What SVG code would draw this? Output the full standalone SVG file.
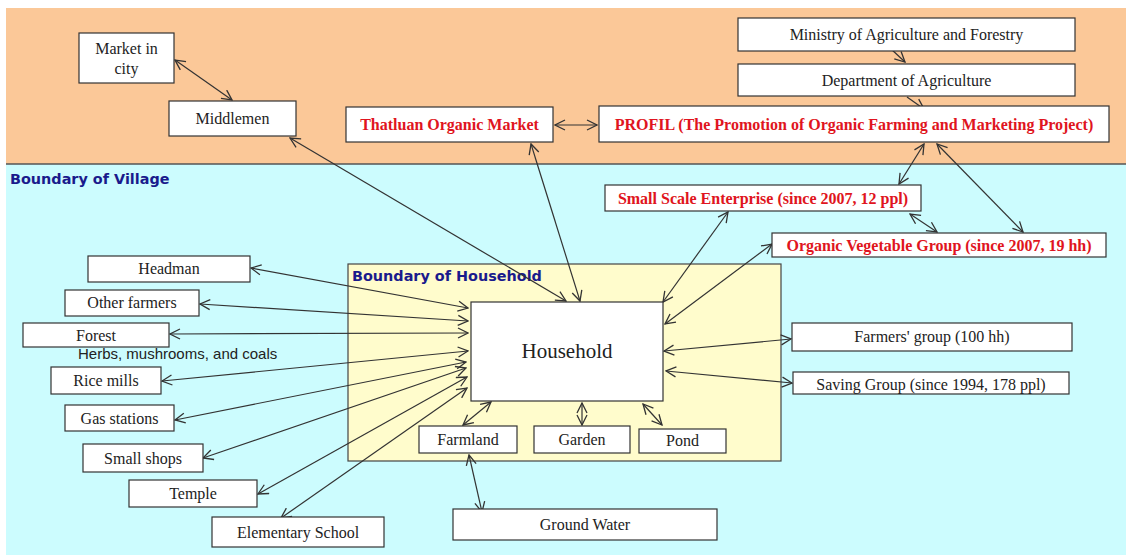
<svg xmlns="http://www.w3.org/2000/svg" width="1126" height="555" viewBox="0 0 1126 555">
<defs>
<marker id="ah" viewBox="0 0 12 12" refX="11" refY="6" markerWidth="12" markerHeight="12" markerUnits="userSpaceOnUse" orient="auto-start-reverse">
<path d="M1,1 L11,6 L1,11" fill="none" stroke="#333" stroke-width="1.3"/>
</marker>
<style>
.box{fill:#fff;stroke:#333;stroke-width:1.2}
.t{font-family:"Liberation Serif",serif;font-size:16px;fill:#222;text-anchor:middle}
.r{font-family:"Liberation Serif",serif;font-size:16px;font-weight:bold;fill:#e01420;text-anchor:middle}
.b{font-family:"DejaVu Sans",sans-serif;font-size:14.4px;font-weight:bold;fill:#1a1a8c}
.c{fill:none;stroke:#333;stroke-width:1.2}
.d{marker-start:url(#ah);marker-end:url(#ah)}
.s{marker-end:url(#ah)}
</style>
</defs>
<rect x="0" y="0" width="1126" height="555" fill="#fff"/>
<rect x="6" y="8" width="1120" height="156" fill="#fbc898"/>
<rect x="6" y="164" width="1120" height="391" fill="#ccfcfe"/>
<line x1="6" y1="164" x2="1126" y2="164" stroke="#555" stroke-width="1.5"/>
<text class="b" x="10" y="184">Boundary of Village</text>
<g id="boundary-household">
<rect x="348" y="264" width="433" height="197" fill="#fffccc" stroke="#444" stroke-width="1.2"/>
<text class="b" x="352" y="281">Boundary of Household</text>
</g>
<g id="connectors">
<line class="c d" x1="175" y1="60" x2="232" y2="100"/>
<line class="c d" x1="290" y1="138" x2="566" y2="301"/>
<line class="c d" x1="531" y1="144" x2="580" y2="301"/>
<line class="c d" x1="555" y1="125" x2="597" y2="125"/>
<line class="c s" x1="890" y1="48" x2="905" y2="62"/>
<line class="c s" x1="907" y1="97" x2="924" y2="109"/>
<line class="c d" x1="924" y1="144" x2="899" y2="184"/>
<line class="c d" x1="937" y1="144" x2="1023" y2="232"/>
<line class="c d" x1="910" y1="214" x2="937" y2="232"/>
<line class="c d" x1="728" y1="212" x2="663" y2="302"/>
<line class="c d" x1="772" y1="244" x2="665" y2="324"/>
<line class="c d" x1="791" y1="339" x2="664" y2="351"/>
<line class="c d" x1="792" y1="383" x2="666" y2="371"/>
<line class="c d" x1="491" y1="402" x2="463" y2="425"/>
<line class="c d" x1="582" y1="403" x2="582" y2="425"/>
<line class="c d" x1="643" y1="404" x2="662" y2="425"/>
<line class="c d" x1="469" y1="455" x2="482" y2="512"/>
<line class="c d" x1="251" y1="268" x2="468" y2="308"/>
<line class="c d" x1="200" y1="304" x2="468" y2="321"/>
<line class="c d" x1="170" y1="334" x2="468" y2="333"/>
<line class="c d" x1="162" y1="381" x2="468" y2="351"/>
<line class="c d" x1="175" y1="420" x2="466" y2="362"/>
<line class="c d" x1="203" y1="458" x2="466" y2="368"/>
<line class="c d" x1="258" y1="494" x2="467" y2="377"/>
<line class="c d" x1="281" y1="518" x2="467" y2="388"/>
</g>
<g id="market-in-city"><rect class="box" x="79" y="33" width="95" height="50"/><text class="t" x="126.5" y="54">Market in</text><text class="t" x="126.5" y="74">city</text></g>
<g id="middlemen"><rect class="box" x="169" y="101" width="127" height="35"/><text class="t" x="232.5" y="124">Middlemen</text></g>
<g id="thatluan"><rect class="box" x="346" y="107" width="207" height="35"/><text class="r" x="449.5" y="130">Thatluan Organic Market</text></g>
<g id="profil"><rect class="box" x="599" y="106" width="510" height="36"/><text class="r" x="854" y="130">PROFIL (The Promotion of Organic Farming and Marketing Project)</text></g>
<g id="ministry"><rect class="box" x="738" y="18" width="337" height="33"/><text class="t" x="906.5" y="40">Ministry of Agriculture and Forestry</text></g>
<g id="department"><rect class="box" x="738" y="64" width="337" height="32"/><text class="t" x="906.5" y="86">Department of Agriculture</text></g>
<g id="small-scale"><rect class="box" x="605" y="185" width="316" height="26"/><text class="r" x="763" y="204">Small Scale Enterprise (since 2007, 12 ppl)</text></g>
<g id="organic-veg"><rect class="box" x="772" y="233" width="334" height="24"/><text class="r" x="939" y="251">Organic Vegetable Group (since 2007, 19 hh)</text></g>
<g id="household"><rect class="box" x="471" y="302" width="192" height="99"/><text class="t" x="567" y="358" style="font-size:21px">Household</text></g>
<g id="farmland"><rect class="box" x="419" y="426" width="98" height="27"/><text class="t" x="468" y="445">Farmland</text></g>
<g id="garden"><rect class="box" x="534" y="426" width="96" height="27"/><text class="t" x="582" y="445">Garden</text></g>
<g id="pond"><rect class="box" x="639" y="429" width="87" height="24"/><text class="t" x="682.5" y="446">Pond</text></g>
<g id="ground-water"><rect class="box" x="453" y="509" width="264" height="31"/><text class="t" x="585" y="530">Ground Water</text></g>
<g id="farmers-group"><rect class="box" x="792" y="323" width="280" height="28"/><text class="t" x="932" y="342">Farmers' group (100 hh)</text></g>
<g id="saving-group"><rect class="box" x="793" y="372" width="276" height="22"/><text class="t" x="931" y="390">Saving Group (since 1994, 178 ppl)</text></g>
<g id="headman"><rect class="box" x="88" y="256" width="162" height="26"/><text class="t" x="169" y="274">Headman</text></g>
<g id="other-farmers"><rect class="box" x="65" y="290" width="134" height="26"/><text class="t" x="132" y="308">Other farmers</text></g>
<g id="forest"><rect class="box" x="23" y="323" width="146" height="24"/><text class="t" x="96" y="341">Forest</text>
<text x="78" y="359" style="font-family:'Liberation Sans',sans-serif;font-size:15px;fill:#222">Herbs, mushrooms, and coals</text></g>
<g id="rice-mills"><rect class="box" x="51" y="367" width="110" height="27"/><text class="t" x="106" y="386">Rice mills</text></g>
<g id="gas-stations"><rect class="box" x="65" y="405" width="109" height="26"/><text class="t" x="119.5" y="424">Gas stations</text></g>
<g id="small-shops"><rect class="box" x="83" y="444" width="120" height="28"/><text class="t" x="143" y="464">Small shops</text></g>
<g id="temple"><rect class="box" x="129" y="480" width="128" height="27"/><text class="t" x="193" y="499">Temple</text></g>
<g id="elementary-school"><rect class="box" x="212" y="517" width="172" height="30"/><text class="t" x="298" y="538">Elementary School</text></g>
</svg>
